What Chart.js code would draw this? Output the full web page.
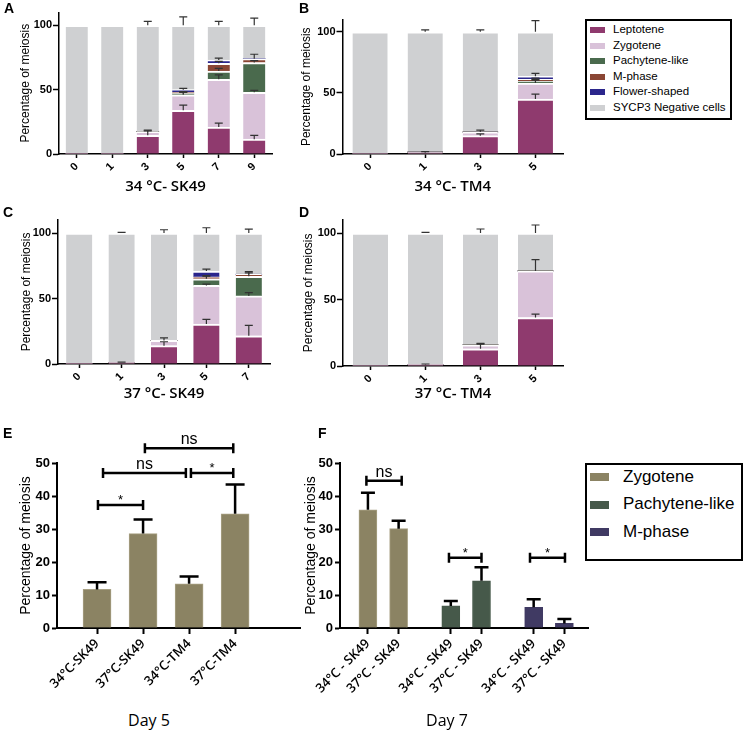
<!DOCTYPE html>
<html>
<head>
<meta charset="utf-8">
<script src="https://cdn.jsdelivr.net/npm/chart.js@4.4.1/dist/chart.umd.min.js"></script>
<style>
  body { margin: 0; background: #fff; }
  #fig { position: relative; width: 745px; height: 733px; background: #fff; font-family: Arial, "Liberation Sans", sans-serif; }
  canvas { position: absolute; }
  .tag { position: absolute; font: bold 14px Arial, "Liberation Sans", sans-serif; line-height: 14px; color: #000; }
  .legend { position: absolute; border: 2px solid #000; background: #fff; box-sizing: border-box; }
  .legend div { position: absolute; white-space: nowrap; color: #000; }
  .legend span { position: absolute; }
  .xtitle { position: absolute; font: 16px "Open Sans", sans-serif; color: #000; transform: translate(-50%, -50%); white-space: nowrap; }
</style>
</head>
<body>
<div id="fig">
  <canvas id="chartA"></canvas>
  <canvas id="chartB"></canvas>
  <canvas id="chartC"></canvas>
  <canvas id="chartD"></canvas>
  <canvas id="chartE"></canvas>
  <canvas id="chartF"></canvas>

  <div class="tag" style="left:4px;top:1px">A</div>
  <div class="tag" style="left:299px;top:1px">B</div>
  <div class="tag" style="left:3px;top:205px">C</div>
  <div class="tag" style="left:299px;top:205px">D</div>
  <div class="tag" style="left:3px;top:426px">E</div>
  <div class="tag" style="left:318px;top:426px">F</div>

  <div class="legend" id="legendTop" style="left:585px;top:19px;width:147px;height:101px"></div>
  <div class="legend" id="legendF" style="left:585px;top:463px;width:158px;height:98px"></div>

  <div class="xtitle" style="left:149px;top:720px">Day 5</div>
  <div class="xtitle" style="left:447px;top:720px">Day 7</div>
</div>
<script>
// stage names, bottom to top of each stacked bar
const stages = ['Leptotene', 'Zygotene', 'Pachytene-like', 'M-phase', 'Flower-shaped', 'SYCP3 Negative cells'];
const stageColors = ['#8f3a6e', '#d9c2d9', '#4a6a4d', '#8a4634', '#2b268c', '#cfd0d2'];

// A: 34 C - SK49
const daysA = ['0', '1', '3', '5', '7', '9'];
const lepA = [0, 0, 14.5, 34, 21, 11.5];
const zygA = [0, 0, 3, 12, 37, 36.5];
const pachA = [0, 0, 0, 1, 6.5, 23];
const mphA = [0, 0, 0, 1, 6, 3];
const flowA = [0, 0, 0, 2, 2.5, 0];
const negA = [100, 100, 82.5, 50, 27, 26];
const lepErrA = [0, 0, 3.5, 4, 3, 3];
const zygErrA = [0, 0, 1, 2, 3.5, 1.5];
const pachErrA = [0, 0, 0, 1, 2, 1.5];
const mphErrA = [0, 0, 0, 0.5, 1.5, 3.5];
const flowErrA = [0, 0, 0, 1, 1.5, 0];
const negErrA = [0, 0, 3, 6.5, 3, 5.5];

// B: 34 C - TM4
const daysB = ['0', '1', '3', '5'];
const lepB = [0, 1, 15, 45];
const zygB = [0, 0.5, 3, 13];
const pachB = [0, 0, 0, 1.5];
const mphB = [0, 0, 0, 1.5];
const flowB = [0, 0, 0, 2.5];
const negB = [100, 98.5, 82, 36.5];
const lepErrB = [0, 1, 1.5, 4];
const zygErrB = [0, 0, 1.5, 3];
const pachErrB = [0, 0, 0, 1];
const mphErrB = [0, 0, 0, 1];
const flowErrB = [0, 0, 0, 2.5];
const negErrB = [0, 1.5, 1.5, 9];

// C: 37 C - SK49
const daysC = ['0', '1', '3', '5', '7'];
const lepC = [0, 1, 14, 30.5, 21.5];
const zygC = [0, 0, 4, 29.5, 30.5];
const pachC = [0, 0, 0, 5, 15];
const mphC = [0, 0, 0, 1.5, 1.5];
const flowC = [0, 0, 0, 4.5, 0];
const negC = [100, 99, 82, 29, 31.5];
const lepErrC = [0, 0.5, 3, 3.5, 8];
const zygErrC = [0, 0, 2, 1, 2.5];
const pachErrC = [0, 0, 0, 2, 3.5];
const mphErrC = [0, 0, 0, 1, 1];
const flowErrC = [0, 0, 0, 1.5, 0];
const negErrC = [0, 0.5, 2.5, 4, 3];

// D: 37 C - TM4
const daysD = ['0', '1', '3', '5'];
const lepD = [0, 1, 13, 36.5];
const zygD = [0, 0, 3, 35];
const pachD = [0, 0, 0, 0];
const mphD = [0, 0, 0, 0];
const flowD = [0, 0, 0, 0];
const negD = [100, 99, 84, 28.5];
const lepErrD = [0, 0.5, 3.5, 2.5];
const zygErrD = [0, 0, 1, 8.5];
const pachErrD = [0, 0, 0, 0];
const mphErrD = [0, 0, 0, 0];
const flowErrD = [0, 0, 0, 0];
const negErrD = [0, 0.5, 3, 6];

const stackTicks = [0, 50, 100];

// E: zygotene at day 5
const groupsE = ['34°C-SK49', '37°C-SK49', '34°C-TM4', '37°C-TM4'];
const zygE = [11.7, 28.6, 13.4, 34.6];
const zygErrE = [2.2, 4.3, 2.2, 8.9];
const sigE = [
  { from: 0, to: 1, level: 37.3, text: '*' },
  { from: 0, to: 2, level: 47, text: 'ns' },
  { from: 2, to: 3, level: 47, text: '*' },
  { from: 1, to: 3, level: 54.5, text: 'ns' }
];

// F: day 7
const groupsF = ['34°C - SK49', '37°C - SK49', '34°C - SK49', '37°C - SK49', '34°C - SK49', '37°C - SK49'];
const stagesF = ['Zygotene', 'Pachytene-like', 'M-phase'];
const colorsF = ['#8b8363', '#46594a', '#403a63'];
const zygF = [35.8, 30.1];
const pachF = [6.7, 14.3];
const mphF = [6.3, 1.4];
const zygErrF = [5.2, 2.4];
const pachErrF = [1.5, 4.1];
const mphErrF = [2.4, 1.3];
const sigF = [
  { from: 0, to: 1, level: 44.6, text: 'ns' },
  { from: 2, to: 3, level: 21.3, text: '*' },
  { from: 4, to: 5, level: 21.3, text: '*' }
];
const sigTicks = [0, 10, 20, 30, 40, 50];

// layout only: where bars sit on the E / F x axis, and bracket end insets
const posE = [0, 1, 2, 3];
const posF = [0, 1, 2.7, 3.7, 5.4, 6.4];
const insetE = [[0.02, 0], [0.13, 0.07], [0.04, 0.04], [0.04, 0.04]];
const insetF = [[-0.05, -0.1], [-0.06, 0], [-0.12, -0.02]];

// error bars drawn on top of (stacked) bars
const errorBars = {
  id: 'errorBars',
  afterDatasetsDraw(chart, args, opts) {
    const ctx = chart.ctx;
    const yScale = chart.scales.y;
    const sums = [];
    ctx.save();
    ctx.strokeStyle = opts.color;
    ctx.lineWidth = opts.width;
    chart.data.datasets.forEach((ds, i) => {
      const meta = chart.getDatasetMeta(i);
      ds.data.forEach((d, j) => {
        const v = typeof d === 'object' ? d.y : d;
        const base = opts.stacked ? (sums[j] || 0) : 0;
        const top = base + v;
        if (opts.stacked) sums[j] = top;
        const e = ds.errorBars ? ds.errorBars[j] : 0;
        if (!e || !v) return;
        const x = meta.data[j].x;
        const y0 = yScale.getPixelForValue(top);
        const y1 = yScale.getPixelForValue(top + e);
        ctx.beginPath();
        ctx.moveTo(x, y0);
        ctx.lineTo(x, y1);
        ctx.moveTo(x - opts.cap / 2, y1);
        ctx.lineTo(x + opts.cap / 2, y1);
        ctx.stroke();
      });
    });
    ctx.restore();
  }
};

// significance brackets above the bars
const brackets = {
  id: 'brackets',
  afterDatasetsDraw(chart, args, opts) {
    if (!opts.items) return;
    const ctx = chart.ctx;
    const xs = chart.scales.x, ys = chart.scales.y;
    ctx.save();
    ctx.strokeStyle = '#000';
    ctx.fillStyle = '#000';
    ctx.lineWidth = 2.5;
    opts.items.forEach((b, k) => {
      const ins = opts.inset[k];
      const x0 = xs.getPixelForValue(opts.pos[b.from] + ins[0]);
      const x1 = xs.getPixelForValue(opts.pos[b.to] - ins[1]);
      const yy = ys.getPixelForValue(b.level);
      ctx.beginPath();
      ctx.moveTo(x0, yy); ctx.lineTo(x1, yy);
      ctx.moveTo(x0, yy - 5); ctx.lineTo(x0, yy + 5);
      ctx.moveTo(x1, yy - 5); ctx.lineTo(x1, yy + 5);
      ctx.stroke();
      ctx.textAlign = 'center';
      ctx.textBaseline = 'alphabetic';
      if (b.text === '*') {
        ctx.font = '13px Arial';
        ctx.fillText(b.text, (x0 + x1) / 2, yy - 1);
      } else {
        ctx.font = '16px Arial';
        ctx.fillText(b.text, (x0 + x1) / 2, yy - 4);
      }
    });
    ctx.restore();
  }
};

function place(id, left, top, w, h) {
  const c = document.getElementById(id);
  c.width = w; c.height = h;
  c.style.left = left + 'px'; c.style.top = top + 'px';
  c.style.width = w + 'px'; c.style.height = h + 'px';
  return c;
}

function stackedChart(id, box, days, series, errs, title) {
  const datasets = series.map((vals, i) => ({
    label: stages[i],
    data: vals,
    errorBars: errs[i],
    backgroundColor: stageColors[i],
    borderColor: '#fff',
    borderWidth: { top: 2, right: 0, bottom: 0, left: 0 },
    borderSkipped: false,
    barThickness: box.bar
  }));
  return new Chart(place(id, box.left, box.top, box.w, box.h), {
    type: 'bar',
    data: { labels: days, datasets: datasets },
    options: {
      responsive: false, animation: false, devicePixelRatio: 1,
      layout: { autoPadding: false, padding: { top: box.padTop, right: box.padRight, left: 0, bottom: 0 } },
      plugins: {
        legend: { display: false }, tooltip: { enabled: false },
        errorBars: { color: '#333', width: 1.2, cap: 8, stacked: true }
      },
      scales: {
        x: {
          stacked: true, offset: true,
          grid: { display: true, drawOnChartArea: false, offset: false, tickLength: 4, tickColor: '#000', tickWidth: 1.5 },
          border: { color: '#000', width: 1.5 },
          ticks: { color: '#000', font: { family: 'Arial', weight: 'bold', size: 11 }, minRotation: 45, maxRotation: 45, padding: 2, autoSkip: false },
          title: { display: true, text: title, color: '#000', font: { family: 'Open Sans', size: 15, weight: 600 }, padding: { top: 0, bottom: box.xTitlePad } },
          afterFit: s => { s.height = box.xH; }
        },
        y: {
          stacked: true, min: 0, max: 110,
          afterBuildTicks: s => { s.ticks = stackTicks.map(v => ({ value: v })); },
          grid: { display: true, drawOnChartArea: false, tickLength: 6, tickColor: '#000', tickWidth: 1.5 },
          border: { color: '#000', width: 1.5 },
          ticks: { color: '#000', font: { family: 'Arial', weight: 'bold', size: 11 }, padding: 1 },
          title: { display: true, text: 'Percentage of meiosis', color: '#000', font: { family: 'Arial', size: 12 }, padding: { top: box.yTitlePad, bottom: 0 } },
          afterFit: s => { s.width = box.yW; }
        }
      }
    },
    plugins: [errorBars]
  });
}

stackedChart('chartA', { left: 0, top: 0, w: 280, h: 200, padTop: 12.4, padRight: 8, yW: 59, xH: 46, xTitlePad: 4, yTitlePad: 18, bar: 22 },
  daysA, [lepA, zygA, pachA, mphA, flowA, negA], [lepErrA, zygErrA, pachErrA, mphErrA, flowErrA, negErrA], '34 °C- SK49');
stackedChart('chartB', { left: 295, top: 0, w: 276, h: 200, padTop: 19.5, padRight: 8, yW: 47.5, xH: 46, xTitlePad: 4, yTitlePad: 4, bar: 35 },
  daysB, [lepB, zygB, pachB, mphB, flowB, negB], [lepErrB, zygErrB, pachErrB, mphErrB, flowErrB, negErrB], '34 °C- TM4');
stackedChart('chartC', { left: 0, top: 200, w: 280, h: 210, padTop: 19.9, padRight: 10, yW: 58, xH: 46, xTitlePad: 7, yTitlePad: 19, bar: 26 },
  daysC, [lepC, zygC, pachC, mphC, flowC, negC], [lepErrC, zygErrC, pachErrC, mphErrC, flowErrC, negErrC], '37 °C- SK49');
stackedChart('chartD', { left: 295, top: 200, w: 276, h: 210, padTop: 19.7, padRight: 8, yW: 48, xH: 44, xTitlePad: 7, yTitlePad: 6, bar: 35 },
  daysD, [lepD, zygD, pachD, mphD, flowD, negD], [lepErrD, zygErrD, pachErrD, mphErrD, flowErrD, negErrD], '37 °C- TM4');

function sigScales(box, pos, labels) {
  return {
    x: {
      type: 'linear', min: box.xMin, max: box.xMax, offset: false,
      afterBuildTicks: s => { s.ticks = pos.map(v => ({ value: v })); },
      grid: { display: true, drawOnChartArea: false, offset: false, tickLength: 6, tickColor: '#000', tickWidth: 2 },
      border: { color: '#000', width: 2 },
      ticks: { color: '#000', font: { family: 'Open Sans', weight: 600, size: 13 }, minRotation: 45, maxRotation: 45, padding: 2, autoSkip: false,
        callback: (v, i) => labels[i] },
      afterFit: s => { s.height = box.xH; }
    },
    y: {
      min: 0, max: 50,
      afterBuildTicks: s => { s.ticks = sigTicks.map(v => ({ value: v })); },
      grid: { display: true, drawOnChartArea: false, tickLength: 5, tickColor: '#000', tickWidth: 2 },
      border: { color: '#000', width: 2 },
      ticks: { color: '#000', font: { family: 'Arial', weight: 'bold', size: 13 }, padding: 2 },
      title: { display: true, text: 'Percentage of meiosis', color: '#000', font: { family: 'Arial', size: 14 }, padding: { top: box.yTitlePad, bottom: 0 } },
      afterFit: s => { s.width = box.yW; }
    }
  };
}

const boxE = { left: 0, top: 410, w: 310, h: 290, padTop: 53, padRight: 10, yW: 57, xH: 72, yTitlePad: 18, xMin: -0.87, xMax: 4.41 };
new Chart(place('chartE', boxE.left, boxE.top, boxE.w, boxE.h), {
  type: 'bar',
  data: {
    datasets: [{
      label: 'Zygotene',
      data: zygE.map((v, i) => ({ x: posE[i], y: v })),
      errorBars: zygErrE,
      backgroundColor: colorsF[0],
      borderColor: '#a8a184',
      borderWidth: 1,
      barThickness: 28
    }]
  },
  options: {
    responsive: false, animation: false, devicePixelRatio: 1,
    layout: { autoPadding: false, padding: { top: boxE.padTop, right: boxE.padRight, left: 0, bottom: 0 } },
    plugins: {
      legend: { display: false }, tooltip: { enabled: false },
      errorBars: { color: '#000', width: 2.5, cap: 19, stacked: false },
      brackets: { items: sigE, inset: insetE, pos: posE }
    },
    scales: sigScales(boxE, posE, groupsE)
  },
  plugins: [errorBars, brackets]
});

const boxF = { left: 295, top: 410, w: 300, h: 290, padTop: 53, padRight: 7, yW: 45, xH: 72, yTitlePad: 7.6, xMin: -0.91, xMax: 7.17 };
const seriesF = [zygF, pachF, mphF];
const errsF = [zygErrF, pachErrF, mphErrF];
new Chart(place('chartF', boxF.left, boxF.top, boxF.w, boxF.h), {
  type: 'bar',
  data: {
    datasets: seriesF.map((vals, g) => ({
      label: stagesF[g],
      data: vals.map((v, i) => ({ x: posF[g * 2 + i], y: v })),
      errorBars: errsF[g],
      backgroundColor: colorsF[g],
      borderColor: g === 0 ? '#a8a184' : colorsF[g],
      borderWidth: 1,
      barThickness: 18,
      grouped: false
    }))
  },
  options: {
    responsive: false, animation: false, devicePixelRatio: 1,
    layout: { autoPadding: false, padding: { top: boxF.padTop, right: boxF.padRight, left: 0, bottom: 0 } },
    plugins: {
      legend: { display: false }, tooltip: { enabled: false },
      errorBars: { color: '#000', width: 2.5, cap: 14, stacked: false },
      brackets: { items: sigF, inset: insetF, pos: posF }
    },
    scales: sigScales(boxF, posF, groupsF)
  },
  plugins: [errorBars, brackets]
});

// html legends built from the series names and colours
function buildLegend(id, names, colors, o) {
  const el = document.getElementById(id);
  names.forEach((n, i) => {
    const y = o.first + i * o.step;
    const sw = document.createElement('span');
    sw.style.cssText = `left:${o.swX}px;top:${y - o.swH / 2}px;width:${o.swW}px;height:${o.swH}px;background:${colors[i]}`;
    el.appendChild(sw);
    const t = document.createElement('div');
    t.textContent = n;
    t.style.cssText = `left:${o.textX}px;top:${y - o.size * 0.6}px;font:${o.size}px Arial, "Liberation Sans", sans-serif;line-height:${o.size * 1.2}px`;
    el.appendChild(t);
  });
}
buildLegend('legendTop', stages, stageColors, { first: 9, step: 15.5, swX: 3, swW: 15, swH: 6, textX: 26, size: 11.5 });
buildLegend('legendF', stagesF, colorsF, { first: 12, step: 27.5, swX: 3, swW: 19, swH: 8, textX: 36, size: 17 });
</script>
</body>
</html>
